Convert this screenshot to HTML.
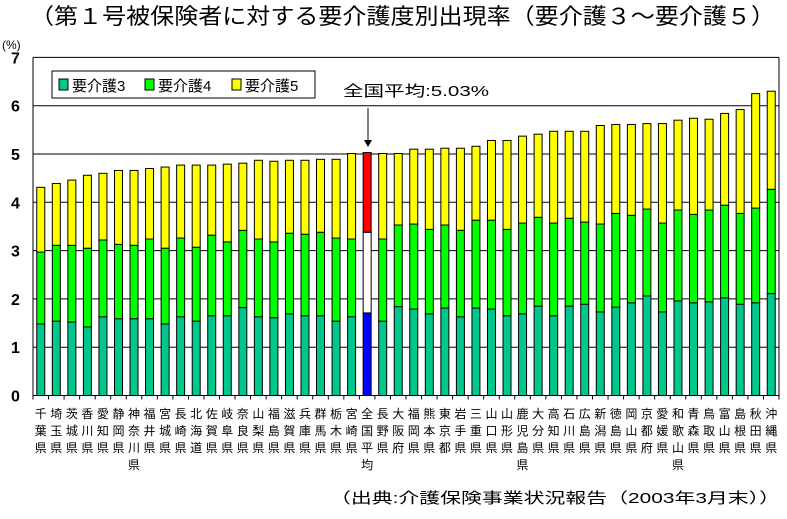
<!DOCTYPE html>
<html><head><meta charset="utf-8"><style>
body{margin:0;background:#fff;width:787px;height:514px;overflow:hidden}
svg text{font-family:"Liberation Sans","Noto Sans CJK JP",sans-serif}
</style></head><body>
<svg id="chart" width="787" height="514" xmlns="http://www.w3.org/2000/svg">
<text x="30" y="24" font-size="22" textLength="745" lengthAdjust="spacingAndGlyphs">（第１号被保険者に対する要介護度別出現率（要介護３～要介護５）</text>
<text x="2" y="49" font-size="12">(%)</text>
<g id="grid"></g>
<g id="bars"></g>
<g id="xlabels"></g>
<rect x="52" y="71" width="263" height="27" fill="#fff" stroke="#000"/>
<rect x="59" y="79" width="9" height="11" fill="#00C88C" stroke="#000"/>
<text x="72" y="91" font-size="15">要介護3</text>
<rect x="145" y="79" width="9" height="11" fill="#00FF00" stroke="#000"/>
<text x="158" y="91" font-size="15">要介護4</text>
<rect x="232" y="79" width="9" height="11" fill="#FFFF00" stroke="#000"/>
<text x="245" y="91" font-size="15">要介護5</text>
<text x="343" y="96" font-size="15" textLength="146" lengthAdjust="spacingAndGlyphs">全国平均:5.03%</text>
<line x1="368" y1="108" x2="368" y2="142" stroke="#000"/>
<polygon points="364,140 372,140 368,147" fill="#000"/>
<text x="330" y="503" font-size="15" textLength="450" lengthAdjust="spacingAndGlyphs">（出典:介護保険事業状況報告（2003年3月末））</text>
</svg>
<script>
const names=["千葉県","埼玉県","茨城県","香川県","愛知県","静岡県","神奈川県","福井県","宮城県","長崎県","北海道","佐賀県","岐阜県","奈良県","山梨県","福島県","滋賀県","兵庫県","群馬県","栃木県","宮崎県","全国平均","長野県","大阪府","福岡県","熊本県","東京都","岩手県","三重県","山口県","山形県","鹿児島県","大分県","高知県","石川県","広島県","新潟県","徳島県","岡山県","京都府","愛媛県","和歌山県","青森県","鳥取県","富山県","島根県","秋田県","沖縄県"];
const care3=[1.48,1.54,1.52,1.42,1.63,1.59,1.59,1.59,1.48,1.63,1.54,1.65,1.65,1.82,1.63,1.61,1.69,1.65,1.65,1.54,1.63,1.71,1.54,1.84,1.79,1.69,1.81,1.63,1.81,1.79,1.65,1.69,1.85,1.65,1.85,1.89,1.73,1.83,1.92,2.06,1.73,1.96,1.92,1.94,2.02,1.89,1.92,2.11];
const care4=[1.49,1.57,1.59,1.63,1.59,1.54,1.52,1.65,1.57,1.63,1.53,1.67,1.53,1.60,1.61,1.57,1.67,1.69,1.73,1.72,1.61,1.67,1.70,1.69,1.76,1.75,1.72,1.79,1.82,1.84,1.79,1.88,1.84,1.92,1.82,1.70,1.82,1.94,1.81,1.80,1.84,1.88,1.83,1.90,1.92,1.88,1.96,2.16];
const care5=[1.34,1.28,1.35,1.51,1.38,1.53,1.55,1.46,1.68,1.51,1.70,1.45,1.61,1.39,1.63,1.67,1.51,1.53,1.51,1.63,1.77,1.65,1.77,1.48,1.55,1.66,1.59,1.70,1.53,1.65,1.84,1.80,1.72,1.90,1.80,1.88,2.04,1.84,1.88,1.77,2.06,1.86,1.99,1.88,1.90,2.15,2.37,2.03];
const yTicks=[0,1,2,3,4,5,6,7];
const NS="http://www.w3.org/2000/svg";
const L=33,R=779,B=395.5,U=48.3,n=names.length,step=(R-L)/n;
const y=v=>B-v*U, xc=i=>L+step*(i+0.5);
function mk(tag,at,parent){const e=document.createElementNS(NS,tag);for(const k in at)e.setAttribute(k,at[k]);parent.appendChild(e);return e;}
const grid=document.getElementById('grid'),bars=document.getElementById('bars'),xl=document.getElementById('xlabels');
yTicks.forEach(t=>{
 const l=mk('line',{x1:L,x2:R,y1:y(t),y2:y(t),stroke:'#000'},grid);
 
 
 const tx=mk('text',{x:11,y:y(t)+6,'font-size':16,'font-weight':'bold'},grid);tx.textContent=t;
 
 
});
const ax=mk('line',{x1:L,x2:L,y1:y(7),y2:B,stroke:'#000'},grid);


const ax2=mk('line',{x1:R,x2:R,y1:y(7),y2:B,stroke:'#000'},grid);


for(let i=0;i<=n;i++){const tk=mk('line',{x1:L+step*i,x2:L+step*i,y1:B,y2:B+4,stroke:'#000'},grid);
 
 }
names.forEach((nm,i)=>{
 const avg=nm==="全国平均";
 const segs=[[0,care3[i],avg?'#0000FF':'#00C88C','care3'],[care3[i],care3[i]+care4[i],avg?'#FFFFFF':'#00FF00','care4'],[care3[i]+care4[i],care3[i]+care4[i]+care5[i],avg?'#FF0000':'#FFFF00','care5']];
 segs.forEach(s=>{
  const r=mk('rect',{x:xc(i)-4,width:8,y:y(s[1]),height:y(s[0])-y(s[1]),fill:s[2],stroke:'#000','stroke-width':1},bars);
  
  
 });
 const t=mk('text',{'font-size':12,'text-anchor':'middle'},xl);
 
 
 [...nm].forEach((c,k)=>{const ts=mk('tspan',{x:xc(i),y:418+k*17},t);ts.textContent=c;});
});
</script>
</body></html>
